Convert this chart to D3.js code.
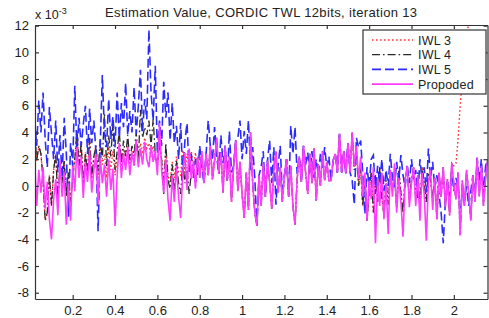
<!DOCTYPE html>
<html>
<head>
<meta charset="utf-8">
<script src="https://cdn.jsdelivr.net/npm/d3@7"></script>
<style>
  body { margin: 0; background: #fff; }
  text { font-family: 'Liberation Sans', Arial, sans-serif; fill: #222; }
</style>
</head>
<body>
<div id="chart"></div>
<script>
// x samples: 0.02 .. 2.16, step 0.01
const xStart = 0.02
const xStep = 0.01

// IWL 3 (red dotted)
const iwl3 = [
  4.1, 1.9, 3.0, 2.4, 0.5, -2.6, -2.0, 0.8, -1.5, 1.2,
  2.4, -1.1, 1.4, 0.2, 1.9, -0.8, 1.0, -1.2, 0.6, 2.0,
  4.1, 1.5, 3.2, -0.1, 2.5, 1.0, 3.6, 0.6, 2.2, 3.0,
  0.6, 2.9, 1.6, 2.4, 0.6, 2.9, 1.2, 2.6, 0.8, 2.0,
  3.0, 1.4, 2.8, 2.0, 3.2, 1.6, 2.6, 2.0, 3.4, 1.8,
  3.2, 2.4, 3.6, 2.8, 3.2, 2.2, 3.0, 2.0, 1.6, 3.0,
  2.0, 0.4, 2.6, 0.8, 0.2, 1.8, 0.6, 2.2, 1.0, 0.8,
  2.7, 1.0, 2.4, 1.2, 2.6, 1.4, 2.5, 1.1, 2.2, 1.6,
  0.2, 2.4, 0.8, 3.0, 0.5, 1.9, 3.6, 0.9, 2.5, -0.5,
  3.0, 0.4, 2.2, -1.2, 1.5, 3.4, -0.4, 1.8, -0.6, -2.4,
  1.0, -1.8, 4.0, 0.2, -2.0, -3.0, 0.8, -1.5, 1.7, -0.8,
  1.9, 0.3, -1.7, 1.2, 2.6, -0.5, 1.4, -1.2, 0.8, 2.0,
  -0.8, 1.5, -1.5, -2.9, 0.5, 2.2, 0.3, 3.0, 1.0, -0.6,
  2.4, 0.2, 2.8, -1.1, 1.6, 0.0, 2.6, 0.4, 1.8, 0.4,
  0.4, 1.9, 2.4, 1.0, 3.9, 1.0, 2.6, 0.9, 3.2, 1.0,
  4.0, 1.2, 2.6, 0.0, 1.4, -1.5, 0.6, -2.6, -0.4, 1.0,
  -2.0, 0.8, -1.2, 1.4, -0.8, -2.2, 0.4, -1.4, 1.0, -0.3,
  0.8, -1.6, 1.2, -0.5, -2.0, 0.6, 1.2, -1.0, 0.4, 1.4,
  -0.8, 1.0, -1.7, 1.4, 0.2, -1.2, 1.0, 0.4, -1.0, 0.6,
  -2.5, 1.0, -0.8, 1.4, -1.6, 0.5, -2.2, 1.7, 1.5, 1.7,
  3.5, 6.0, 8.0, 9.5, 11.0, 12.3, 14.0, 16.0, 18.5, 21.0,
  24.0, 27.0, 30.0, 33.0, 36.0
]

// IWL 4 (black dash-dot)
const iwl4 = [
  4.1, 1.9, 3.0, 2.4, 0.5, -2.6, -2.0, 0.8, -1.5, 1.2,
  2.4, -1.1, 1.4, 0.2, 1.9, -0.8, 1.0, -1.2, 0.6, 2.0,
  4.1, 1.5, 3.2, -0.1, 2.5, 1.0, 3.6, 0.6, 2.2, 3.0,
  1.1, 3.5, 2.0, 5.4, 1.5, 3.8, 2.2, 4.6, 1.2, 2.6,
  4.1, 1.7, 3.4, 2.2, 3.8, 1.9, 3.0, 2.4, 4.0, 2.0,
  5.7, 3.6, 4.4, 3.8, 4.9, 3.0, 5.0, 2.4, 1.4, 3.2,
  2.0, -0.6, 3.2, 0.4, -0.2, 1.6, -0.5, 1.9, 0.2, -0.6,
  1.9, 0.2, 1.4, -0.6, 1.0, 1.6, 0.0, 2.2, 0.6, 2.6,
  0.2, 2.4, 0.8, 3.0, 0.5, 1.9, 3.6, 0.9, 2.5, -0.5,
  3.0, 0.4, 2.2, -1.2, 1.5, 3.4, -0.4, 1.8, -0.6, -2.4,
  1.0, -1.8, 4.0, 0.2, -2.0, -3.0, 0.8, -1.5, 1.7, -0.8,
  1.9, 0.3, -1.7, 1.2, 2.6, -0.5, 1.4, -1.2, 0.8, 2.0,
  -0.8, 1.5, -1.5, -2.9, 0.5, 2.2, 0.3, 3.0, 1.0, -0.6,
  2.4, 0.2, 2.8, -1.1, 1.6, 0.0, 2.6, 0.4, 1.8, 0.4,
  0.4, 1.9, 2.4, 1.0, 3.9, 1.0, 2.6, 0.9, 3.2, 1.0,
  4.0, 1.2, 2.6, 0.0, 1.4, -1.5, 0.6, -2.6, -0.4, 1.0,
  -2.0, 0.8, -1.2, 1.4, -0.8, -2.2, 0.4, -1.4, 1.0, -0.3,
  0.8, -1.6, 1.2, -0.5, -2.0, 0.6, 1.2, -1.0, 0.4, 1.4,
  -0.8, 1.0, -1.7, 1.4, 0.2, -1.2, 1.0, 0.4, -1.0, 0.6,
  -2.5, 1.0, -0.8, 1.4, -1.6, 0.5, -2.2, 1.7, 0.2, -1.0,
  1.0, -3.7, 0.4, -1.5, 1.2, -0.5, -2.6, 0.8, -1.2, 2.1,
  -0.8, 1.5, -1.5, 0.6, 2.0
]

// IWL 5 (blue dashed)
const iwl5 = [
  5.1, 3.0, 6.4, 4.0, 7.0, 3.5, 1.4, 5.9, 3.9, 2.0,
  4.9, 1.0, 3.8, 0.6, 5.1, 2.4, -2.3, 3.2, 1.5, 7.5,
  2.6, 5.1, 3.0, 4.6, 6.0, 2.4, 5.8, 3.2, 4.9, 2.5,
  -3.4, 3.0, 8.3, 4.0, 2.9, 6.5, 3.5, 5.2, 2.9, 7.0,
  3.6, 6.2, 4.4, 7.7, 3.8, 5.6, 4.0, 7.4, 3.9, 6.0,
  8.7, 4.1, 6.5, 5.0, 11.7, 7.0, 4.9, 9.0, 2.4, 4.9,
  3.0, 7.8, 5.1, 7.0, 3.4, 6.2, 3.2, 4.5, 2.0, 4.7,
  0.6, 3.4, 4.7, 1.0, 2.4, 0.6, 2.0, 0.8, 3.0, 1.4,
  0.2, 2.4, 4.9, 3.0, 1.9, 4.4, 2.2, 0.9, 3.8, 1.7,
  3.0, 0.4, 4.1, 1.0, 1.5, 3.4, 3.6, 4.9, 2.0, 4.1,
  2.4, 4.9, 1.2, 2.9, 0.6, -3.0, 0.8, 1.4, 2.6, -0.8,
  1.9, 3.4, 0.2, 2.9, -1.4, 1.5, 3.0, -0.6, 0.8, 2.0,
  -0.8, 4.5, 2.4, 4.4, 0.9, 2.2, 0.3, 3.0, 1.6, 2.5,
  1.0, 2.6, 0.6, 2.0, 0.8, 2.4, 1.2, 2.9, 1.4, 2.2,
  0.4, 1.9, 2.4, 1.0, 3.9, 1.0, 2.6, 0.9, 3.2, 1.0,
  0.4, -1.4, 3.6, 2.9, 3.4, 0.9, -2.1, 1.4, 0.0, 2.0,
  2.3, -0.6, 1.5, 0.2, 2.0, -0.4, 1.2, 0.0, 2.4, 0.6,
  -0.1, 1.8, 0.4, 2.3, 0.8, -0.1, 1.6, 0.2, 2.0, 0.5,
  1.2, -0.9, 2.0, 0.4, 1.4, -0.5, 2.8, 0.6, 1.8, -0.2,
  0.8, -0.6, -2.0, -4.3, -1.2, 0.3, -0.8, 1.2, -0.4, 0.6,
  -0.1, -1.7, -0.6, -1.2, 0.0, -1.5, -0.4, 0.8, -0.9, 2.1,
  0.4, 2.0, -0.6, 1.5, 2.0
]

// Propoded (magenta solid)
const proposed = [
  2.0, -1.5, 1.2, -0.5, 1.4, -1.7, 0.3, -2.5, -4.0, -1.0,
  0.5, -2.2, 1.9, -0.8, 1.0, -2.9, 0.2, -2.6, 1.5, -0.4,
  2.9, 0.6, 2.2, -0.9, 1.8, 0.3, 2.6, -0.5, 1.2, 2.4,
  -1.4, 2.1, 0.2, 1.6, -0.8, 2.0, -0.3, 1.3, -3.0, 0.8,
  3.2, 0.6, 2.4, 1.2, 2.9, 0.8, 2.5, 1.5, 3.4, 1.4,
  2.8, 1.6, 3.3, 2.0, 1.4, 3.0, 1.8, 2.6, 0.8, 4.7,
  1.2, -0.5, 2.0, -1.0, -2.6, 0.8, -1.2, 1.5, -0.8, -2.4,
  1.0, 2.5, -0.3, 2.8, 0.5, 1.8, -0.2, 2.2, 0.6, 2.6,
  0.2, 2.4, 0.8, 3.0, 0.5, 1.9, 3.6, 0.9, 2.5, -0.5,
  3.0, 0.4, 2.2, -1.2, 1.5, 3.4, -0.4, 1.8, -0.6, -2.4,
  1.0, -1.8, 4.0, 0.2, -2.0, -3.0, 0.8, -1.5, 1.7, -0.8,
  1.9, 0.3, -1.7, 1.2, 2.6, -0.5, 1.4, -1.2, 0.8, 2.0,
  -0.8, 1.5, -1.5, -2.9, 0.5, 2.2, 0.3, 3.0, 1.0, -0.6,
  2.4, 0.2, 2.8, -1.1, 1.6, 0.0, 2.6, 0.4, 1.8, 0.4,
  0.4, 1.9, 2.4, 1.0, 3.9, 1.0, 2.6, 0.9, 3.2, 1.0,
  4.0, 1.5, 3.0, 0.5, 2.2, -0.8, 1.0, -2.6, 0.4, -1.0,
  1.4, -4.3, 0.5, -1.5, 1.0, -2.5, 0.2, -3.6, 1.2, -0.8,
  1.7, -2.0, 0.6, -1.2, -3.8, 0.4, 1.5, -1.6, 0.2, 1.4,
  -1.5, 0.8, -2.6, 1.0, -0.6, -4.1, 0.3, 1.2, -1.8, 0.6,
  -2.5, 1.0, -0.8, 1.4, -1.6, 0.5, -2.2, 1.7, 0.2, -1.0,
  1.0, -3.7, 0.4, -1.5, 1.2, -0.5, -2.6, 0.8, -1.2, 2.1,
  -0.8, 1.5, -1.5, 0.6, 2.0
]

const seriesNames = ['IWL 3', 'IWL 4', 'IWL 5', 'Propoded']
const xTicks = [0.2, 0.4, 0.6, 0.8, 1, 1.2, 1.4, 1.6, 1.8, 2]
const yTicks = [-8, -6, -4, -2, 0, 2, 4, 6, 8, 10, 12]

const W = 489
const H = 318
const margin = { top: 25, left: 35, right: 1.5, bottom: 19 }
const width = W - margin.left - margin.right
const height = H - margin.top - margin.bottom

const svg = d3
  .select('#chart')
  .append('svg')
  .attr('width', W)
  .attr('height', H)

const g = svg
  .append('g')
  .attr('transform', 'translate(' + margin.left + ',' + margin.top + ')')

const x = d3.scaleLinear().domain([0.022, 2.159]).range([0, width])
const y = d3.scaleLinear().domain([-8.47, 12.05]).range([height, 0])

g.append('clipPath')
  .attr('id', 'clip')
  .append('rect')
  .attr('width', width)
  .attr('height', height)

// styles per series, drawn in MATLAB order (last one on top)
const styles = [
  { data: iwl3, color: '#ff3030', dash: '1.6,2.4', w: 1.4 },
  { data: iwl4, color: '#2a2a2a', dash: '8,3,1.6,3', w: 1.3 },
  { data: iwl5, color: '#2b2bff', dash: '9,4', w: 1.6 },
  { data: proposed, color: '#ff3cff', dash: null, w: 1.6 }
]

const line = d3
  .line()
  .x((d, i) => x(xStart + i * xStep))
  .y(d => y(d))

const plot = g.append('g').attr('clip-path', 'url(#clip)')
styles.forEach(s => {
  plot
    .append('path')
    .datum(s.data)
    .attr('d', line)
    .attr('fill', 'none')
    .attr('stroke', s.color)
    .attr('stroke-width', s.w)
    .attr('stroke-dasharray', s.dash)
})

// axes: box with inside ticks
const fmt = d => String(d)
g.append('g')
  .attr('class', 'axis')
  .attr('transform', 'translate(0,' + height + ')')
  .call(d3.axisBottom(x).tickValues(xTicks).tickFormat(fmt).tickSizeInner(-4).tickSizeOuter(0).tickPadding(7))
g.append('g')
  .attr('class', 'axis')
  .call(d3.axisTop(x).tickValues(xTicks).tickFormat('').tickSizeInner(-4).tickSizeOuter(0))
g.append('g')
  .attr('class', 'axis')
  .call(d3.axisLeft(y).tickValues(yTicks).tickFormat(fmt).tickSizeInner(-4).tickSizeOuter(0).tickPadding(6))
g.append('g')
  .attr('class', 'axis')
  .attr('transform', 'translate(' + width + ',0)')
  .call(d3.axisRight(y).tickValues(yTicks).tickFormat('').tickSizeInner(-4).tickSizeOuter(0))

g.selectAll('.axis path, .axis line').attr('stroke', '#333').attr('stroke-width', 1.2)
g.selectAll('.axis text').style('font-size', '13px').style('fill', '#222')

// title and exponent label
svg.append('text')
  .attr('x', margin.left + width / 2)
  .attr('y', 17)
  .attr('text-anchor', 'middle')
  .style('font-size', '13px')
  .style('letter-spacing', '0.35px')
  .text('Estimation Value, CORDIC TWL 12bits, iteration 13')

const expo = svg.append('text')
  .attr('x', 35)
  .attr('y', 19)
  .style('font-size', '12.5px')
expo.append('tspan').text('x 10')
expo.append('tspan').attr('dy', -5).style('font-size', '9px').text('-3')

// legend
const lg = g.append('g').attr('transform', 'translate(' + (363 - margin.left) + ',' + (30 - margin.top) + ')')
lg.append('rect')
  .attr('width', 123)
  .attr('height', 64)
  .attr('fill', '#fff')
  .attr('stroke', '#333')
  .attr('stroke-width', 1.2)
styles.forEach((s, i) => {
  const yy = 10 + i * 14.7
  lg.append('line')
    .attr('x1', 9)
    .attr('x2', 50)
    .attr('y1', yy)
    .attr('y2', yy)
    .attr('stroke', s.color)
    .attr('stroke-width', s.w)
    .attr('stroke-dasharray', s.dash)
  lg.append('text')
    .attr('x', 55)
    .attr('y', yy + 4.5)
    .style('font-size', '12.5px')
    .style('letter-spacing', '0.2px')
    .text(seriesNames[i])
})
</script>
</body>
</html>
